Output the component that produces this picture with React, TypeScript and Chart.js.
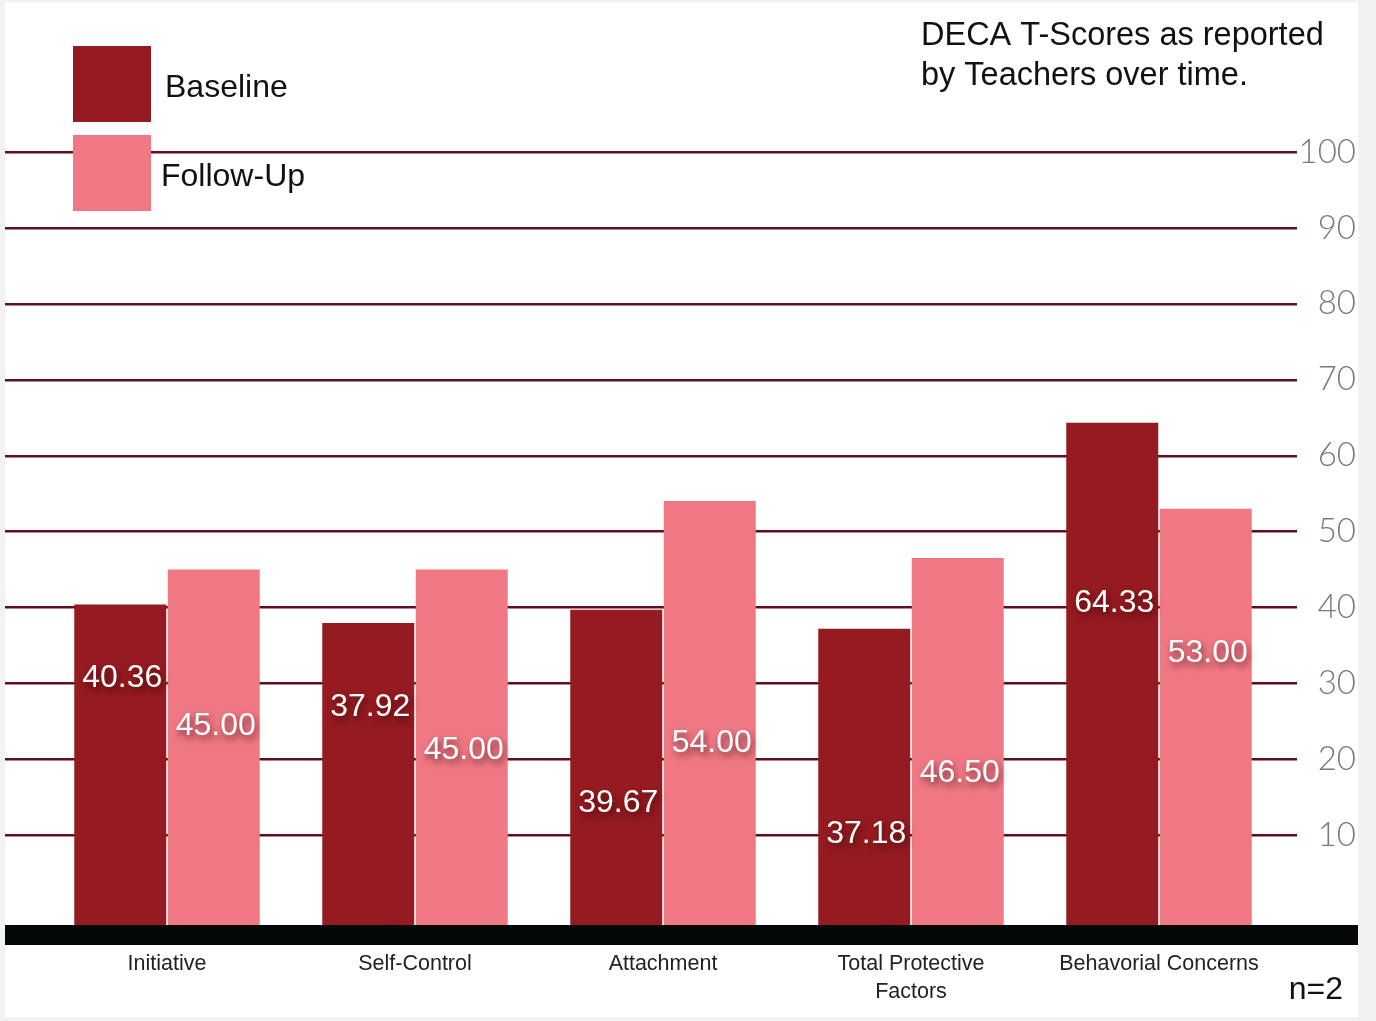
import React, { useEffect, useRef } from "react";
import { Chart, registerables } from "chart.js";

Chart.register(...registerables);

const categories: (string | string[])[] = [
  "Initiative",
  "Self-Control",
  "Attachment",
  ["Total Protective", "Factors"],
  "Behavorial Concerns",
];
const baselineValues = [40.36, 37.92, 39.67, 37.18, 64.33];
const followUpValues = [45.0, 45.0, 54.0, 46.5, 53.0];
// value (in axis units) at which each printed number sits inside its bar
const baselineLabelAt = [30.7, 26.9, 14.2, 10.1, 40.6];
const followUpLabelAt = [24.4, 21.2, 22.1, 18.2, 33.9];
const yTicks = [10, 20, 30, 40, 50, 60, 70, 80, 90, 100];
const seriesNames = ["Baseline", "Follow-Up"];
const titleLines = ["DECA T-Scores as reported", "by Teachers over time."];
const noteText = "n=2";

const Y_MIN = -1.86;
const Y_MAX = 100;
const BASE_COLOR = "#951b20";
const FOLLOW_COLOR = "#f07884";
const GRID_COLOR = "#5e1020";
const FONT = "'Liberation Sans', Arial, Helvetica, sans-serif";

const backgroundPlugin = {
  id: "bgPanel",
  beforeDraw(chart: any) {
    const { ctx, width, height } = chart;
    ctx.save();
    ctx.fillStyle = "#f2f2f2";
    ctx.fillRect(0, 0, width, height);
    ctx.fillStyle = "#ffffff";
    ctx.fillRect(5, 2, 1353, 1015);
    ctx.restore();
  },
};

const gridPlugin = {
  id: "fullGrid",
  beforeDatasetsDraw(chart: any) {
    const { ctx } = chart;
    const y = chart.scales.y;
    ctx.save();
    ctx.strokeStyle = GRID_COLOR;
    ctx.lineWidth = 2.5;
    yTicks.forEach((v) => {
      const py = Math.round(y.getPixelForValue(v)) + 0.25;
      ctx.beginPath();
      ctx.moveTo(5, py);
      ctx.lineTo(1297, py);
      ctx.stroke();
    });
    ctx.restore();
  },
};

const overlayPlugin = {
  id: "overlay",
  afterDatasetsDraw(chart: any) {
    const { ctx, chartArea } = chart;
    const y = chart.scales.y;
    ctx.save();
    // black base band
    ctx.fillStyle = "#050808";
    ctx.fillRect(5, chartArea.bottom, 1353, 20);

    // value labels
    const anchors = [baselineLabelAt, followUpLabelAt];
    chart.data.datasets.forEach((ds: any, di: number) => {
      const meta = chart.getDatasetMeta(di);
      meta.data.forEach((el: any, i: number) => {
        const txt = Number(ds.data[i]).toFixed(2);
        const py = y.getPixelForValue(anchors[di][i]);
        ctx.font = `32px ${FONT}`;
        ctx.textAlign = "center";
        ctx.textBaseline = "middle";
        ctx.shadowColor = "rgba(40,0,0,0.65)";
        ctx.shadowBlur = 7;
        ctx.shadowOffsetX = 2;
        ctx.shadowOffsetY = 4;
        ctx.fillStyle = "#ffffff";
        ctx.fillText(txt, el.x + 2, py);
      });
    });
    ctx.shadowColor = "transparent";
    ctx.shadowBlur = 0;
    ctx.shadowOffsetX = 0;
    ctx.shadowOffsetY = 0;

    // legend
    const colors = [BASE_COLOR, FOLLOW_COLOR];
    const boxTops = [46, 135];
    const textX = [165, 161];
    seriesNames.forEach((name, i) => {
      ctx.fillStyle = colors[i];
      ctx.fillRect(73, boxTops[i], 78, 76);
      ctx.fillStyle = "#111111";
      ctx.font = `300 32px ${FONT}`;
      ctx.textAlign = "left";
      ctx.textBaseline = "middle";
      ctx.fillText(name, textX[i], boxTops[i] + 42);
    });

    // title
    ctx.fillStyle = "#111111";
    ctx.font = `32.5px ${FONT}`;
    ctx.textAlign = "left";
    ctx.textBaseline = "middle";
    titleLines.forEach((line, i) => {
      ctx.fillText(line, 921, 36 + i * 40);
    });

    // note
    ctx.font = `32px ${FONT}`;
    ctx.textAlign = "right";
    ctx.fillText(noteText, 1343, 990);
    ctx.restore();
  },
};

export default function App() {
  const canvasRef = useRef<HTMLCanvasElement | null>(null);

  useEffect(() => {
    if (!canvasRef.current) return;
    const chart = new Chart(canvasRef.current, {
      type: "bar",
      data: {
        labels: categories,
        datasets: [
          {
            label: seriesNames[0],
            data: baselineValues,
            backgroundColor: BASE_COLOR,
            base: Y_MIN,
            categoryPercentage: 0.754,
            barPercentage: 0.984,
          } as any,
          {
            label: seriesNames[1],
            data: followUpValues,
            backgroundColor: FOLLOW_COLOR,
            base: Y_MIN,
            categoryPercentage: 0.754,
            barPercentage: 0.984,
          } as any,
        ],
      },
      options: {
        animation: false,
        responsive: false,
        maintainAspectRatio: false,
        layout: { padding: { left: 43, right: 20, top: 152, bottom: 0 } },
        plugins: {
          legend: { display: false },
          title: { display: false },
          tooltip: { enabled: false },
        },
        scales: {
          x: {
            grid: { display: false },
            border: { display: false },
            ticks: {
              color: "#222222",
              font: { family: FONT, size: 21.5, lineHeight: 1.3 },
              padding: 17,
              maxRotation: 0,
              autoSkip: false,
            },
            afterFit(scale: any) {
              scale.height = 96;
            },
          },
          y: {
            position: "right",
            min: Y_MIN,
            max: Y_MAX,
            grid: { display: false },
            border: { display: false },
            afterBuildTicks(scale: any) {
              scale.ticks = yTicks.map((v) => ({ value: v }));
            },
            afterFit(scale: any) {
              scale.width = 73;
            },
            ticks: {
              color: "#7a7a7a",
              crossAlign: "far",
              padding: 4,
              font: { family: "Lato, 'Noto Sans', sans-serif", size: 33, weight: "300" as any },
              callback: (v: any) => String(v),
            },
          },
        },
      },
      plugins: [backgroundPlugin, gridPlugin, overlayPlugin],
    });
    return () => chart.destroy();
  }, []);

  return (
    <div style={{ position: "fixed", left: 0, top: 0, width: 1376, height: 1021 }}>
      <canvas ref={canvasRef} width={1376} height={1021} style={{ display: "block" }} />
    </div>
  );
}
